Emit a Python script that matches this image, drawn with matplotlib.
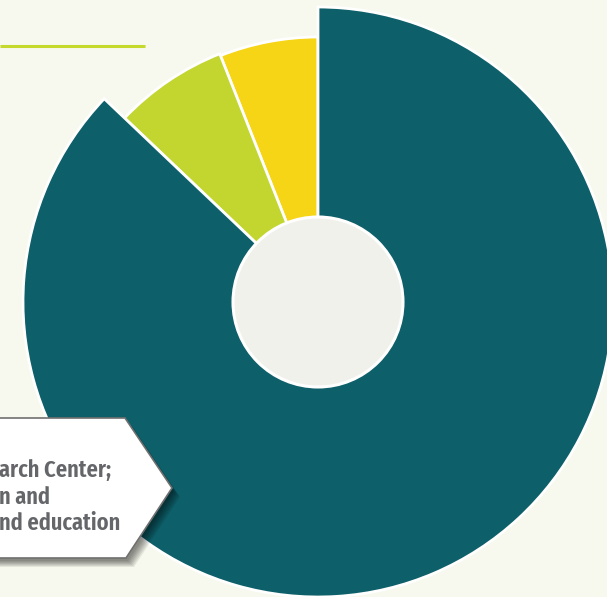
import numpy as np
import matplotlib.pyplot as plt
from matplotlib.patches import Wedge, Circle, Polygon

### data: shares of the donut (counter-clockwise from 12 o'clock) ###
segments = ['yellow', 'green', 'teal']
shares = [6.0, 6.9, 87.1]
label_lines = ['arch Center;', 'n and', 'nd education']

### style ###
colors = ['#f5d515', '#c3d630', '#0d5f69']
radii = [265, 267, 295]
bg = '#f7f9ee'
W, H = 607, 597
cx, cy = 318, H - 302
inner_r = 85

def px(x, y):
    # picture pixel (top-left origin) -> axes coords
    return (x, H - y)

fig = plt.figure(figsize=(W / 100, H / 100), dpi=100)
fig.patch.set_facecolor(bg)
ax = fig.add_axes([0, 0, 1, 1])
ax.set_xlim(0, W)
ax.set_ylim(0, H)
ax.set_aspect('equal')
ax.axis('off')

### thin green line top-left ###
ax.plot([0, 145], [H - 46, H - 46], color='#c5d92d', lw=2.2, solid_capstyle='butt')

### wedges ###
start = 90.0
for seg, share, col, r in zip(segments, shares, colors, radii):
    span = share / sum(shares) * 360
    ax.add_patch(Wedge((cx, cy), r, start, start + span, facecolor=col,
                       edgecolor='white', lw=2.0, zorder=2))
    start += span

ax.add_patch(Circle((cx, cy), inner_r, facecolor='#f0f1eb', edgecolor='white',
                    lw=2.2, zorder=3))

### label box with shadow ###
box = [px(-20, 418), px(125, 418), px(172, 488), px(126, 558), px(-20, 558)]
for i in range(7):
    off = 2 + i
    shadow = [(x + off, y - off - 1) for x, y in box]
    ax.add_patch(Polygon(shadow, closed=True, facecolor='black', edgecolor='none',
                         alpha=0.08, zorder=4))
ax.add_patch(Polygon(box, closed=True, facecolor='white', edgecolor='#707070',
                     lw=1.2, zorder=5))

ys = [477, 503.5, 530]
for t, y in zip(label_lines, ys):
    ax.text(-1, H - y, t, ha='left', va='baseline', fontsize=17.5, fontweight=600,
            color='#656669', family=['Fira Sans Extra Condensed', 'DejaVu Sans'], zorder=6)

plt.savefig('out.png', dpi=100, facecolor=bg)
